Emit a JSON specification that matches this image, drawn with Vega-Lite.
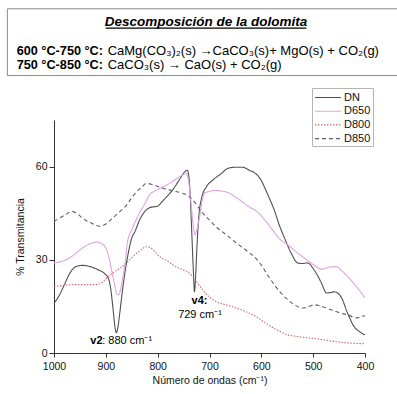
{
  "$schema": "https://vega.github.io/schema/vega-lite/v6.json",
  "width": 311,
  "height": 233,
  "autosize": {"type": "none"},
  "padding": {"left": 54, "top": 120, "right": 32, "bottom": 41},
  "background": "white",
  "config": {
    "font": "Liberation Sans",
    "view": {"stroke": null},
    "text": {"font": "Liberation Sans", "color": "#000000"}
  },
  "layer": [
    {
      "data": {"values": [
        {"sample":"DN","wavenumber":1000,"transmittance":16},
        {"sample":"DN","wavenumber":990,"transmittance":18.5},
        {"sample":"DN","wavenumber":980,"transmittance":22},
        {"sample":"DN","wavenumber":970,"transmittance":25.5},
        {"sample":"DN","wavenumber":958,"transmittance":27.8},
        {"sample":"DN","wavenumber":945,"transmittance":28.2},
        {"sample":"DN","wavenumber":930,"transmittance":27.8},
        {"sample":"DN","wavenumber":915,"transmittance":26.8},
        {"sample":"DN","wavenumber":902,"transmittance":25.5},
        {"sample":"DN","wavenumber":895,"transmittance":24},
        {"sample":"DN","wavenumber":890,"transmittance":20},
        {"sample":"DN","wavenumber":886,"transmittance":14},
        {"sample":"DN","wavenumber":882,"transmittance":8},
        {"sample":"DN","wavenumber":880,"transmittance":6.5},
        {"sample":"DN","wavenumber":877,"transmittance":8},
        {"sample":"DN","wavenumber":873,"transmittance":13},
        {"sample":"DN","wavenumber":868,"transmittance":20},
        {"sample":"DN","wavenumber":863,"transmittance":26},
        {"sample":"DN","wavenumber":858,"transmittance":31},
        {"sample":"DN","wavenumber":850,"transmittance":37},
        {"sample":"DN","wavenumber":844,"transmittance":39},
        {"sample":"DN","wavenumber":835,"transmittance":42.8},
        {"sample":"DN","wavenumber":825,"transmittance":45.5},
        {"sample":"DN","wavenumber":815,"transmittance":46.8},
        {"sample":"DN","wavenumber":800,"transmittance":47.3},
        {"sample":"DN","wavenumber":790,"transmittance":49},
        {"sample":"DN","wavenumber":783,"transmittance":50.2},
        {"sample":"DN","wavenumber":771,"transmittance":52.5},
        {"sample":"DN","wavenumber":758,"transmittance":55.8},
        {"sample":"DN","wavenumber":748,"transmittance":58.3},
        {"sample":"DN","wavenumber":743,"transmittance":58.8},
        {"sample":"DN","wavenumber":740,"transmittance":57},
        {"sample":"DN","wavenumber":737,"transmittance":50},
        {"sample":"DN","wavenumber":734,"transmittance":38},
        {"sample":"DN","wavenumber":731,"transmittance":26},
        {"sample":"DN","wavenumber":729,"transmittance":19.7},
        {"sample":"DN","wavenumber":727,"transmittance":24},
        {"sample":"DN","wavenumber":724,"transmittance":35},
        {"sample":"DN","wavenumber":720,"transmittance":45},
        {"sample":"DN","wavenumber":715,"transmittance":50},
        {"sample":"DN","wavenumber":706,"transmittance":53.5},
        {"sample":"DN","wavenumber":694,"transmittance":55.6},
        {"sample":"DN","wavenumber":677,"transmittance":57.8},
        {"sample":"DN","wavenumber":665,"transmittance":59.4},
        {"sample":"DN","wavenumber":650,"transmittance":59.8},
        {"sample":"DN","wavenumber":636,"transmittance":59.8},
        {"sample":"DN","wavenumber":623,"transmittance":58.8},
        {"sample":"DN","wavenumber":613,"transmittance":58},
        {"sample":"DN","wavenumber":600,"transmittance":55.5},
        {"sample":"DN","wavenumber":594,"transmittance":53.4},
        {"sample":"DN","wavenumber":585,"transmittance":50},
        {"sample":"DN","wavenumber":575,"transmittance":46},
        {"sample":"DN","wavenumber":565,"transmittance":41},
        {"sample":"DN","wavenumber":556,"transmittance":37.3},
        {"sample":"DN","wavenumber":542,"transmittance":32},
        {"sample":"DN","wavenumber":530,"transmittance":29},
        {"sample":"DN","wavenumber":520,"transmittance":28.8},
        {"sample":"DN","wavenumber":511,"transmittance":29},
        {"sample":"DN","wavenumber":498,"transmittance":26.7},
        {"sample":"DN","wavenumber":490,"transmittance":24.5},
        {"sample":"DN","wavenumber":484,"transmittance":22.5},
        {"sample":"DN","wavenumber":474,"transmittance":19.3},
        {"sample":"DN","wavenumber":465,"transmittance":19.5},
        {"sample":"DN","wavenumber":459,"transmittance":19.7},
        {"sample":"DN","wavenumber":446,"transmittance":18},
        {"sample":"DN","wavenumber":434,"transmittance":13},
        {"sample":"DN","wavenumber":421,"transmittance":8.5},
        {"sample":"DN","wavenumber":410,"transmittance":6.8},
        {"sample":"DN","wavenumber":400,"transmittance":5.8},
        {"sample":"D650","wavenumber":1000,"transmittance":29},
        {"sample":"D650","wavenumber":985,"transmittance":29.5},
        {"sample":"D650","wavenumber":970,"transmittance":30.6},
        {"sample":"D650","wavenumber":955,"transmittance":32.5},
        {"sample":"D650","wavenumber":945,"transmittance":33.8},
        {"sample":"D650","wavenumber":930,"transmittance":35.2},
        {"sample":"D650","wavenumber":918,"transmittance":35.7},
        {"sample":"D650","wavenumber":906,"transmittance":35},
        {"sample":"D650","wavenumber":898,"transmittance":33},
        {"sample":"D650","wavenumber":893,"transmittance":30},
        {"sample":"D650","wavenumber":888,"transmittance":26},
        {"sample":"D650","wavenumber":883,"transmittance":22},
        {"sample":"D650","wavenumber":879,"transmittance":19},
        {"sample":"D650","wavenumber":876,"transmittance":18.7},
        {"sample":"D650","wavenumber":872,"transmittance":20},
        {"sample":"D650","wavenumber":867,"transmittance":24.5},
        {"sample":"D650","wavenumber":862,"transmittance":30},
        {"sample":"D650","wavenumber":858,"transmittance":36},
        {"sample":"D650","wavenumber":850,"transmittance":39.6},
        {"sample":"D650","wavenumber":839,"transmittance":43.8},
        {"sample":"D650","wavenumber":825,"transmittance":48},
        {"sample":"D650","wavenumber":816,"transmittance":50.8},
        {"sample":"D650","wavenumber":800,"transmittance":52.6},
        {"sample":"D650","wavenumber":777,"transmittance":54.6},
        {"sample":"D650","wavenumber":760,"transmittance":56.5},
        {"sample":"D650","wavenumber":750,"transmittance":57.5},
        {"sample":"D650","wavenumber":745,"transmittance":57.8},
        {"sample":"D650","wavenumber":740,"transmittance":55},
        {"sample":"D650","wavenumber":736,"transmittance":49},
        {"sample":"D650","wavenumber":732,"transmittance":42},
        {"sample":"D650","wavenumber":728,"transmittance":38},
        {"sample":"D650","wavenumber":724,"transmittance":40},
        {"sample":"D650","wavenumber":719,"transmittance":44},
        {"sample":"D650","wavenumber":714,"transmittance":49},
        {"sample":"D650","wavenumber":710,"transmittance":51.4},
        {"sample":"D650","wavenumber":700,"transmittance":52},
        {"sample":"D650","wavenumber":690,"transmittance":52.3},
        {"sample":"D650","wavenumber":680,"transmittance":52.2},
        {"sample":"D650","wavenumber":667,"transmittance":51.8},
        {"sample":"D650","wavenumber":648,"transmittance":50},
        {"sample":"D650","wavenumber":623,"transmittance":47},
        {"sample":"D650","wavenumber":608,"transmittance":45.5},
        {"sample":"D650","wavenumber":588,"transmittance":41.7},
        {"sample":"D650","wavenumber":562,"transmittance":36.3},
        {"sample":"D650","wavenumber":549,"transmittance":34.8},
        {"sample":"D650","wavenumber":530,"transmittance":32.2},
        {"sample":"D650","wavenumber":517,"transmittance":30.6},
        {"sample":"D650","wavenumber":500,"transmittance":28.5},
        {"sample":"D650","wavenumber":484,"transmittance":27},
        {"sample":"D650","wavenumber":470,"transmittance":27.6},
        {"sample":"D650","wavenumber":455,"transmittance":27.8},
        {"sample":"D650","wavenumber":445,"transmittance":26.5},
        {"sample":"D650","wavenumber":430,"transmittance":24},
        {"sample":"D650","wavenumber":415,"transmittance":21},
        {"sample":"D650","wavenumber":400,"transmittance":17.8},
        {"sample":"D800","wavenumber":1000,"transmittance":21.3},
        {"sample":"D800","wavenumber":980,"transmittance":21.8},
        {"sample":"D800","wavenumber":960,"transmittance":22},
        {"sample":"D800","wavenumber":940,"transmittance":22},
        {"sample":"D800","wavenumber":918,"transmittance":22},
        {"sample":"D800","wavenumber":905,"transmittance":23},
        {"sample":"D800","wavenumber":898,"transmittance":24.2},
        {"sample":"D800","wavenumber":885,"transmittance":26},
        {"sample":"D800","wavenumber":873,"transmittance":27.3},
        {"sample":"D800","wavenumber":860,"transmittance":29},
        {"sample":"D800","wavenumber":848,"transmittance":31},
        {"sample":"D800","wavenumber":835,"transmittance":32.8},
        {"sample":"D800","wavenumber":822,"transmittance":34.2},
        {"sample":"D800","wavenumber":815,"transmittance":34},
        {"sample":"D800","wavenumber":802,"transmittance":32},
        {"sample":"D800","wavenumber":796,"transmittance":31},
        {"sample":"D800","wavenumber":780,"transmittance":29.5},
        {"sample":"D800","wavenumber":764,"transmittance":27.7},
        {"sample":"D800","wavenumber":750,"transmittance":26.7},
        {"sample":"D800","wavenumber":739,"transmittance":25.7},
        {"sample":"D800","wavenumber":725,"transmittance":23},
        {"sample":"D800","wavenumber":713,"transmittance":20.3},
        {"sample":"D800","wavenumber":700,"transmittance":18},
        {"sample":"D800","wavenumber":687,"transmittance":16.5},
        {"sample":"D800","wavenumber":668,"transmittance":15.5},
        {"sample":"D800","wavenumber":648,"transmittance":14.5},
        {"sample":"D800","wavenumber":630,"transmittance":13.3},
        {"sample":"D800","wavenumber":610,"transmittance":11.7},
        {"sample":"D800","wavenumber":595,"transmittance":10},
        {"sample":"D800","wavenumber":581,"transmittance":8.5},
        {"sample":"D800","wavenumber":565,"transmittance":7},
        {"sample":"D800","wavenumber":550,"transmittance":5.9},
        {"sample":"D800","wavenumber":530,"transmittance":5.3},
        {"sample":"D800","wavenumber":511,"transmittance":4.9},
        {"sample":"D800","wavenumber":490,"transmittance":4.5},
        {"sample":"D800","wavenumber":470,"transmittance":4},
        {"sample":"D800","wavenumber":453,"transmittance":3.6},
        {"sample":"D800","wavenumber":430,"transmittance":3.2},
        {"sample":"D800","wavenumber":400,"transmittance":3},
        {"sample":"D850","wavenumber":1000,"transmittance":42.4},
        {"sample":"D850","wavenumber":989,"transmittance":43.4},
        {"sample":"D850","wavenumber":975,"transmittance":44.8},
        {"sample":"D850","wavenumber":966,"transmittance":45.6},
        {"sample":"D850","wavenumber":955,"transmittance":44.8},
        {"sample":"D850","wavenumber":945,"transmittance":43.4},
        {"sample":"D850","wavenumber":930,"transmittance":42},
        {"sample":"D850","wavenumber":912,"transmittance":40.8},
        {"sample":"D850","wavenumber":900,"transmittance":41.5},
        {"sample":"D850","wavenumber":887,"transmittance":43.4},
        {"sample":"D850","wavenumber":873,"transmittance":45.5},
        {"sample":"D850","wavenumber":860,"transmittance":47.6},
        {"sample":"D850","wavenumber":850,"transmittance":50},
        {"sample":"D850","wavenumber":841,"transmittance":51.8},
        {"sample":"D850","wavenumber":830,"transmittance":53.5},
        {"sample":"D850","wavenumber":822,"transmittance":54.6},
        {"sample":"D850","wavenumber":810,"transmittance":54.2},
        {"sample":"D850","wavenumber":790,"transmittance":53},
        {"sample":"D850","wavenumber":770,"transmittance":52.2},
        {"sample":"D850","wavenumber":752,"transmittance":51.4},
        {"sample":"D850","wavenumber":740,"transmittance":50.5},
        {"sample":"D850","wavenumber":732,"transmittance":49.2},
        {"sample":"D850","wavenumber":722,"transmittance":47},
        {"sample":"D850","wavenumber":713,"transmittance":45},
        {"sample":"D850","wavenumber":700,"transmittance":42.8},
        {"sample":"D850","wavenumber":687,"transmittance":40.6},
        {"sample":"D850","wavenumber":675,"transmittance":39},
        {"sample":"D850","wavenumber":662,"transmittance":37.3},
        {"sample":"D850","wavenumber":645,"transmittance":35},
        {"sample":"D850","wavenumber":629,"transmittance":33},
        {"sample":"D850","wavenumber":608,"transmittance":30},
        {"sample":"D850","wavenumber":600,"transmittance":28.3},
        {"sample":"D850","wavenumber":588,"transmittance":25.1},
        {"sample":"D850","wavenumber":575,"transmittance":22},
        {"sample":"D850","wavenumber":562,"transmittance":19.3},
        {"sample":"D850","wavenumber":548,"transmittance":17},
        {"sample":"D850","wavenumber":536,"transmittance":15.5},
        {"sample":"D850","wavenumber":520,"transmittance":14.5},
        {"sample":"D850","wavenumber":508,"transmittance":15},
        {"sample":"D850","wavenumber":498,"transmittance":15.5},
        {"sample":"D850","wavenumber":480,"transmittance":14.8},
        {"sample":"D850","wavenumber":465,"transmittance":13.9},
        {"sample":"D850","wavenumber":450,"transmittance":13},
        {"sample":"D850","wavenumber":434,"transmittance":12.3},
        {"sample":"D850","wavenumber":415,"transmittance":11.3},
        {"sample":"D850","wavenumber":405,"transmittance":11.8},
        {"sample":"D850","wavenumber":400,"transmittance":12}
      ]},
      "mark": {"type": "line", "strokeWidth": 1.1, "interpolate": "monotone"},
      "encoding": {
        "x": {
          "field": "wavenumber", "type": "quantitative",
          "scale": {"domain": [1000, 400], "nice": false, "zero": false},
          "axis": {
            "title": "Número de ondas (cm⁻¹)",
            "values": [1000, 950, 900, 850, 800, 750, 700, 650, 600, 550, 500, 450, 400],
            "labelExpr": "datum.value % 100 === 0 ? format(datum.value, 'd') : ''",
            "labelFlush": false, "labelOverlap": false,
            "grid": false, "domainColor": "#333333", "tickColor": "#333333",
            "tickSize": 4, "labelPadding": 4, "labelFontSize": 10.5, "labelColor": "#111111",
            "titleFontSize": 10.5, "titleFontWeight": "normal", "titleColor": "#111111", "titlePadding": 4
          }
        },
        "y": {
          "field": "transmittance", "type": "quantitative",
          "scale": {"domain": [0, 75], "nice": false},
          "axis": {
            "title": "% Transmitancia",
            "values": [0, 30, 60],
            "grid": false, "domainColor": "#333333", "tickColor": "#333333",
            "tickSize": 5, "labelPadding": 2, "labelFontSize": 10.5, "labelColor": "#111111",
            "titleFontSize": 10.5, "titleFontWeight": "normal", "titleColor": "#111111", "titlePadding": 10
          }
        },
        "color": {
          "field": "sample", "type": "nominal",
          "scale": {"domain": ["DN", "D650", "D800", "D850"], "range": ["#505050", "#e2a2e6", "#d36a6a", "#5e5e72"]},
          "legend": {
            "title": null, "orient": "none", "legendX": 258, "legendY": -32,
            "strokeColor": "#b5b5b5", "fillColor": "white", "padding": 2,
            "symbolType": "M-1,0H3", "symbolSize": 169, "symbolStrokeWidth": 1.1,
            "labelFontSize": 11, "labelOffset": 15, "rowPadding": 0.7, "labelColor": "#111111"
          }
        },
        "strokeDash": {
          "field": "sample", "type": "nominal",
          "scale": {"domain": ["DN", "D650", "D800", "D850"], "range": [[1, 0], [1, 0], [1.5, 1.5], [4, 3]]},
          "legend": null
        }
      }
    },
    {
      "data": {"values": [{}]},
      "mark": {"type": "rect", "fillOpacity": 0, "stroke": "#8c8c8c", "strokeWidth": 1},
      "encoding": {
        "x": {"datum": 1090, "type": "quantitative", "scale": {"domain": [1000, 400], "nice": false, "zero": false}},
        "x2": {"datum": 334},
        "y": {"datum": 110.8, "type": "quantitative", "scale": {"domain": [0, 75], "nice": false}},
        "y2": {"datum": 89.3}
      }
    },
    {
      "data": {"values": [{}]},
      "mark": {"type": "rule", "stroke": "#000000", "strokeWidth": 1.2},
      "encoding": {
        "x": {"datum": 900.4, "type": "quantitative", "scale": {"domain": [1000, 400], "nice": false, "zero": false}},
        "x2": {"datum": 513.1},
        "y": {"datum": 104.55, "type": "quantitative", "scale": {"domain": [0, 75], "nice": false}}
      }
    },
    {
      "data": {"values": [{}]},
      "mark": {"type": "text", "fontSize": 13.5, "fontWeight": "bold", "fontStyle": "italic", "align": "center", "baseline": "middle"},
      "encoding": {
        "x": {"datum": 706.7, "type": "quantitative", "scale": {"domain": [1000, 400], "nice": false, "zero": false}},
        "y": {"datum": 106.4, "type": "quantitative", "scale": {"domain": [0, 75], "nice": false}},
        "text": {"value": "Descomposición de la dolomita"}
      }
    },
    {
      "data": {"values": [{}]},
      "mark": {"type": "text", "fontSize": 12.7, "fontWeight": "bold", "align": "left", "baseline": "middle"},
      "encoding": {
        "x": {"datum": 1072, "type": "quantitative", "scale": {"domain": [1000, 400], "nice": false, "zero": false}},
        "y": {"datum": 97.2, "type": "quantitative", "scale": {"domain": [0, 75], "nice": false}},
        "text": {"value": "600 °C-750 °C:"}
      }
    },
    {
      "data": {"values": [{}]},
      "mark": {"type": "text", "fontSize": 13, "align": "left", "baseline": "middle"},
      "encoding": {
        "x": {"datum": 896.5, "type": "quantitative", "scale": {"domain": [1000, 400], "nice": false, "zero": false}},
        "y": {"datum": 97.2, "type": "quantitative", "scale": {"domain": [0, 75], "nice": false}},
        "text": {"value": "CaMg(CO₃)₂(s) →CaCO₃(s)+ MgO(s) + CO₂(g)"}
      }
    },
    {
      "data": {"values": [{}]},
      "mark": {"type": "text", "fontSize": 12.7, "fontWeight": "bold", "align": "left", "baseline": "middle"},
      "encoding": {
        "x": {"datum": 1072, "type": "quantitative", "scale": {"domain": [1000, 400], "nice": false, "zero": false}},
        "y": {"datum": 92.6, "type": "quantitative", "scale": {"domain": [0, 75], "nice": false}},
        "text": {"value": "750 °C-850 °C:"}
      }
    },
    {
      "data": {"values": [{}]},
      "mark": {"type": "text", "fontSize": 13, "align": "left", "baseline": "middle"},
      "encoding": {
        "x": {"datum": 896.5, "type": "quantitative", "scale": {"domain": [1000, 400], "nice": false, "zero": false}},
        "y": {"datum": 92.6, "type": "quantitative", "scale": {"domain": [0, 75], "nice": false}},
        "text": {"value": "CaCO₃(s) → CaO(s) + CO₂(g)"}
      }
    },
    {
      "data": {"values": [{}]},
      "mark": {"type": "text", "fontSize": 11, "fontWeight": "bold", "align": "left", "baseline": "middle"},
      "encoding": {
        "x": {"datum": 930, "type": "quantitative", "scale": {"domain": [1000, 400], "nice": false, "zero": false}},
        "y": {"datum": 4, "type": "quantitative", "scale": {"domain": [0, 75], "nice": false}},
        "text": {"value": "v2"}
      }
    },
    {
      "data": {"values": [{}]},
      "mark": {"type": "text", "fontSize": 11, "align": "left", "baseline": "middle"},
      "encoding": {
        "x": {"datum": 907, "type": "quantitative", "scale": {"domain": [1000, 400], "nice": false, "zero": false}},
        "y": {"datum": 4, "type": "quantitative", "scale": {"domain": [0, 75], "nice": false}},
        "text": {"value": ": 880 cm⁻¹"}
      }
    },
    {
      "data": {"values": [{}]},
      "mark": {"type": "text", "fontSize": 11, "fontWeight": "bold", "align": "center", "baseline": "middle"},
      "encoding": {
        "x": {"datum": 719.3, "type": "quantitative", "scale": {"domain": [1000, 400], "nice": false, "zero": false}},
        "y": {"datum": 16.6, "type": "quantitative", "scale": {"domain": [0, 75], "nice": false}},
        "text": {"value": "v4:"}
      }
    },
    {
      "data": {"values": [{}]},
      "mark": {"type": "text", "fontSize": 11, "align": "center", "baseline": "middle"},
      "encoding": {
        "x": {"datum": 718.3, "type": "quantitative", "scale": {"domain": [1000, 400], "nice": false, "zero": false}},
        "y": {"datum": 12.3, "type": "quantitative", "scale": {"domain": [0, 75], "nice": false}},
        "text": {"value": "729 cm⁻¹"}
      }
    }
  ]
}
